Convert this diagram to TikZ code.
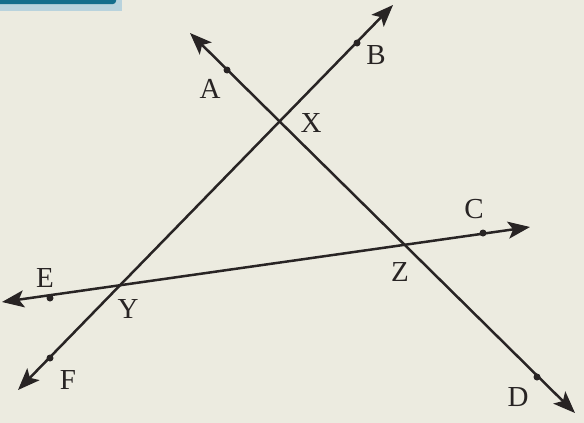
\documentclass[tikz,border=0pt]{standalone}
\usepackage{fontspec}
\setmainfont{Liberation Serif}
\usetikzlibrary{arrows.meta}
\definecolor{paper}{RGB}{236,235,224}
\definecolor{ink}{RGB}{40,36,36}
\definecolor{tealband}{RGB}{20,110,140}
\begin{document}
\begin{tikzpicture}[x=1pt,y=-1pt,
  rayline/.style={draw=ink, line width=2.5pt, {Stealth[length=22pt,width=17pt,inset=5pt]}-{Stealth[length=22pt,width=17pt,inset=5pt]}},
  pt/.style={circle, fill=ink, inner sep=0pt, minimum size=7pt},
  lbl/.style={text=ink, font=\fontsize{29}{31}\selectfont, inner sep=0pt}]
\fill[paper] (0,0) rectangle (584,423);
\useasboundingbox (0,0) rectangle (584,423);
\fill[tealband!30] (0,0) rectangle (122,11);
\fill[tealband, rounded corners=3pt] (-10,-10) rectangle (116,4);
% arrow tips
\coordinate (tA) at (190,33);
\coordinate (tD) at (575,413);
\coordinate (tB) at (393,5);
\coordinate (tF) at (18,390);
\coordinate (tE) at (2,302);
\coordinate (tC) at (530,227);
% lines
\draw[rayline] (tA) -- (tD);
\draw[rayline] (tF) -- (tB);
\draw[rayline] (tE) -- (tC);
% points
\node[pt] (A) at (227,70) {};
\node[pt] (B) at (357,43) {};
\node[pt] (C) at (483,233) {};
\node[pt] (D) at (537,377) {};
\node[pt] (E) at (50,298) {};
\node[pt] (F) at (50,358) {};
\coordinate (X) at (280,122);
\coordinate (Y) at (118,288);
\coordinate (Z) at (404,245);
% labels
\node[lbl] (lA) at (210,89) {A};
\node[lbl] (lB) at (376,55) {B};
\node[lbl] (lC) at (474,209) {C};
\node[lbl] (lD) at (518,397) {D};
\node[lbl] (lE) at (45,278) {E};
\node[lbl] (lF) at (68,380) {F};
\node[lbl] (lX) at (311,123) {X};
\node[lbl] (lY) at (128,309) {Y};
\node[lbl] (lZ) at (400,272) {Z};
\end{tikzpicture}
\end{document}
